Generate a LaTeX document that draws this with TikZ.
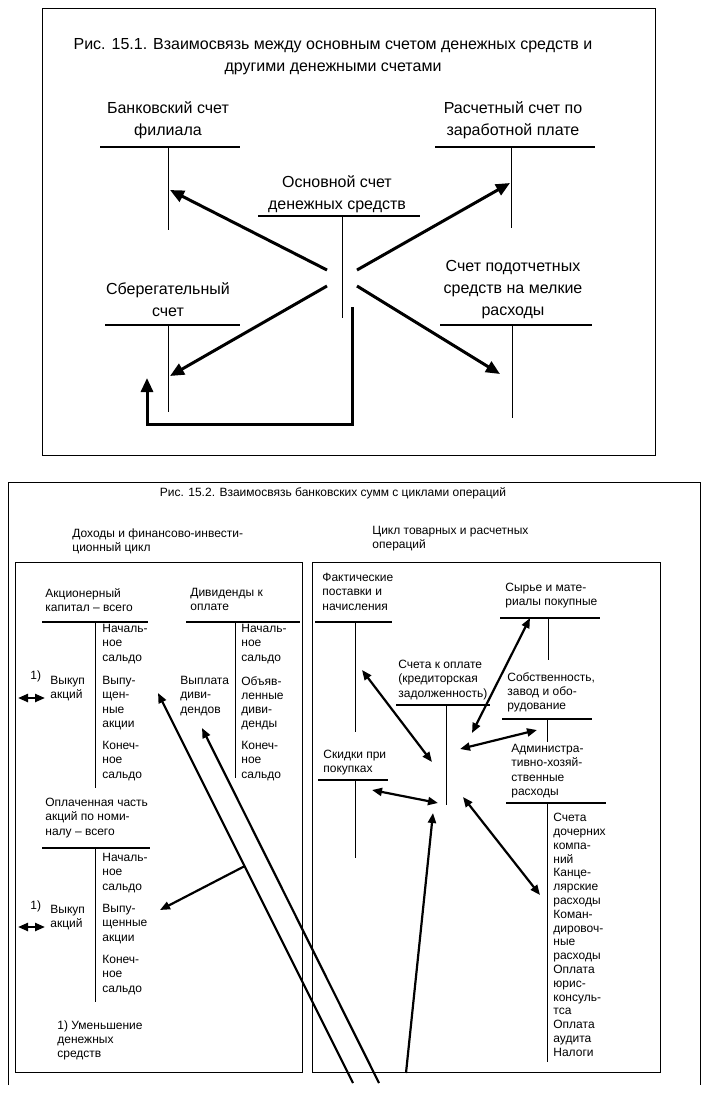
\documentclass[tikz,border=0pt]{standalone}
\usepackage{fontspec}
\setmainfont{Liberation Sans}
\usetikzlibrary{arrows.meta, calc}
\newcommand{\figfontA}{\fontsize{8}{11}\selectfont}
\newcommand{\figfontB}{\fontsize{6}{7.1}\selectfont}
\tikzset{
  frame/.style={line width=0.5pt},
  tline/.style={line width=0.9pt},
  tvert/.style={line width=0.5pt},
  labA/.style={font=\figfontA, align=center, inner sep=0pt, anchor=north},
  labB/.style={font=\figfontB, align=left, inner sep=0pt, anchor=north west},
  bigflow/.style={line width=1.5pt, -{Triangle[length=7pt,width=6pt]}},
  flow/.style={line width=1.1pt, -{Triangle[length=5pt,width=4pt]}},
  dflow/.style={line width=1.1pt,
    {Triangle[length=5pt,width=4pt]}-{Triangle[length=5pt,width=4pt]}},
}

\begin{document}
\begin{tikzpicture}[x=0.5pt,y=-0.5pt]
  \useasboundingbox (0,0) rectangle (714,1099);
  %--- Fig. 15.1 ------------------------------------------------------------
  \begin{scope}
    \draw[frame] (42,8) rectangle (655,455);
    \node[labA] (title1) at (333,38)
      {Рис. 15.1. Взаимосвязь между основным счетом денежных средств и\\
       другими денежными счетами};
    % accounts
    \node[labA] (bank) at (168,101) {Банковский счет\\филиала};
    \draw[tline] (100,147) -- (240,147);
    \draw[tvert] (168,147) -- (168,230);
    \node[labA] (payroll) at (513,101) {Расчетный счет по\\заработной плате};
    \draw[tline] (435,147) -- (595,147);
    \draw[tvert] (511,147) -- (511,228);
    \node[labA] (main) at (337,175) {Основной счет\\денежных средств};
    \draw[tline] (258,216) -- (420,216);
    \draw[tvert] (342,216) -- (342,318);
    \node[labA] (saving) at (168,282) {Сберегательный\\счет};
    \draw[tline] (105,325) -- (240,325);
    \draw[tvert] (168,325) -- (168,412);
    \node[labA] (petty) at (513,260) {Счет подотчетных\\средств на мелкие\\расходы};
    \draw[tline] (440,325) -- (592,325);
    \draw[tvert] (512,325) -- (512,418);
    % arrow ends
    \coordinate (mUL) at (327,270);
    \coordinate (mUR) at (357,270);
    \coordinate (mLL) at (327,286);
    \coordinate (mLR) at (357,286);
    \coordinate (hBank) at (170,190);
    \coordinate (hPay) at (510,183);
    \coordinate (hSave) at (170,376);
    \coordinate (hPetty) at (500,374);
    \coordinate (loopA) at (352,307);
    \coordinate (loopB) at (147,378);
    \draw[bigflow] (mUL) -- (hBank);
    \draw[bigflow] (mUR) -- (hPay);
    \draw[bigflow] (mLL) -- (hSave);
    \draw[bigflow] (mLR) -- (hPetty);
    \draw[bigflow] (loopA) |- (147,424) -- (loopB);
  \end{scope}
  %--- Fig. 15.2 ------------------------------------------------------------
  \begin{scope}
    \draw[frame] (8,1085) -- (8,482) -- (700,482) -- (700,1085);
    \node[labB, anchor=north] (title2) at (333,487)
      {Рис. 15.2. Взаимосвязь банковских сумм с циклами операций};
    \node[labB] (grpL) at (72,528) {Доходы и финансово-инвести-\\ционный цикл};
    \node[labB] (grpR) at (372,526) {Цикл товарных и расчетных\\операций};
    \draw[frame] (15,562) rectangle (302,1072);
    \draw[frame] (312,562) rectangle (660,1072);
    % equity and dividends
    \node[labB] (equity) at (45,588) {Акционерный\\капитал – всего};
    \draw[tline] (42,622) -- (148,622);
    \draw[tvert] (95,622) -- (95,788);
    \node[labB] (eqA) at (102,624) {Началь-\\ное\\сальдо};
    \node[labB] (eqB) at (102,676) {Выпу-\\щен-\\ные\\акции};
    \node[labB] (eqC) at (102,741) {Конеч-\\ное\\сальдо};
    \node[labB] (n1a) at (30,670) {1)};
    \node[labB] (buyA) at (50,676) {Выкуп\\акций};
    \coordinate (bA1) at (18,698);
    \coordinate (bA2) at (45,698);
    \draw[dflow] (bA1) -- (bA2);
    \node[labB] (divid) at (190,588) {Дивиденды к\\оплате};
    \draw[tline] (186,622) -- (300,622);
    \draw[tvert] (235,622) -- (235,778);
    \node[labB] (dvA) at (241,624) {Началь-\\ное\\сальдо};
    \node[labB] (dvB) at (241,676) {Объяв-\\ленные\\диви-\\денды};
    \node[labB] (dvC) at (241,741) {Конеч-\\ное\\сальдо};
    \node[labB] (dvPay) at (180,676) {Выплата\\диви-\\дендов};
    % paid capital
    \node[labB] (paid) at (45,798) {Оплаченная часть\\акций по номи-\\налу – всего};
    \draw[tline] (42,848) -- (150,848);
    \draw[tvert] (95,848) -- (95,1002);
    \node[labB] (pdA) at (102,853) {Началь-\\ное\\сальдо};
    \node[labB] (pdB) at (102,904) {Выпу-\\щенные\\акции};
    \node[labB] (pdC) at (102,955) {Конеч-\\ное\\сальдо};
    \node[labB] (n1b) at (30,900) {1)};
    \node[labB] (buyB) at (50,905) {Выкуп\\акций};
    \coordinate (bB1) at (18,927);
    \coordinate (bB2) at (45,927);
    \draw[dflow] (bB1) -- (bB2);
    \node[labB] (note) at (57,1020) {1) Уменьшение\\денежных\\средств};
    % trade and settlement cycle
    \node[labB] (fact) at (322,573) {Фактические\\поставки и\\начисления};
    \draw[tline] (315,622) -- (392,622);
    \draw[tvert] (355,622) -- (355,732);
    \node[labB] (disc) at (323,750) {Скидки при\\покупках};
    \draw[tline] (318,780) -- (388,780);
    \draw[tvert] (355,780) -- (355,858);
    \node[labB] (payable) at (398,660) {Счета к оплате\\(кредиторская\\задолженность)};
    \draw[tline] (396,705) -- (490,705);
    \draw[tvert] (446,705) -- (446,805);
    \node[labB] (raw) at (505,583) {Сырье и мате-\\риалы покупные};
    \draw[tline] (500,618) -- (600,618);
    \draw[tvert] (548,618) -- (548,660);
    \node[labB] (plant) at (507,672) {Собственность,\\завод и обо-\\рудование};
    \draw[tline] (502,719) -- (592,719);
    \draw[tvert] (547,719) -- (547,742);
    \node[labB] (admin) at (511,744) {Администра-\\тивно-хозяй-\\ственные\\расходы};
    \draw[tline] (506,803) -- (606,803);
    \draw[tvert] (547,803) -- (547,1062);
    \node[labB, font=\fontsize{6}{6.9}\selectfont] (adminR) at (553,813)
      {Счета\\дочерних\\компа-\\ний\\Канце-\\лярские\\расходы\\Коман-\\дировоч-\\ные\\расходы\\Оплата\\юрис-\\консуль-\\тса\\Оплата\\аудита\\Налоги};
    % connectors
    \coordinate (cFact) at (432,762);
    \coordinate (eFact) at (362,670);
    \coordinate (cDisc) at (438,803);
    \coordinate (eDisc) at (372,790);
    \coordinate (cRaw) at (472,733);
    \coordinate (eRaw) at (530,618);
    \coordinate (cPlant) at (460,749);
    \coordinate (ePlant) at (537,730);
    \coordinate (cAdm) at (463,797);
    \coordinate (eAdm) at (540,895);
    \coordinate (cBot) at (433,813);
    \coordinate (eBot) at (406,1073);
    \draw[dflow] (eFact) -- (cFact);
    \draw[dflow] (eDisc) -- (cDisc);
    \draw[dflow] (eRaw) -- (cRaw);
    \draw[dflow] (ePlant) -- (cPlant);
    \draw[dflow] (cAdm) -- (eAdm);
    \draw[flow] (eBot) -- (cBot);
    % long lines to the left panel
    \coordinate (lA) at (353,1083);
    \coordinate (lB) at (379,1083);
    \coordinate (hEq) at (158,693);
    \coordinate (hDv) at (202,728);
    \coordinate (hPd) at (160,910);
    \draw[flow] (lA) -- (hEq);
    \draw[flow] (lB) -- (hDv);
    \draw[flow] ($(lA)!0.556!(hEq)$) -- (hPd);
  \end{scope}
\end{tikzpicture}
\end{document}
